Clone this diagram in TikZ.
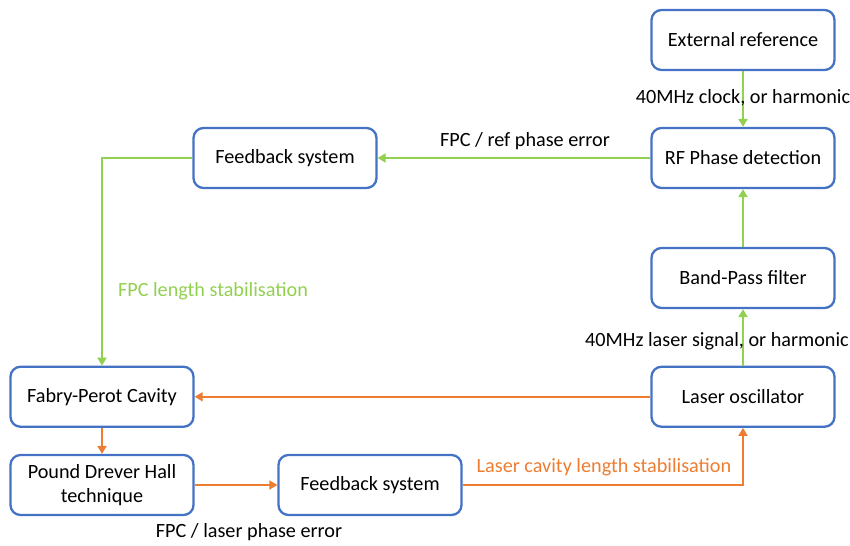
\documentclass[tikz,border=0pt]{standalone}
\usepackage{fontspec}
\setmainfont{Carlito}
\usepackage{tikz}
\usetikzlibrary{arrows.meta}

\definecolor{boxblue}{RGB}{68,114,196}
\definecolor{lgreen}{RGB}{146,208,80}
\definecolor{lorange}{RGB}{237,125,49}

\begin{document}
\begin{tikzpicture}[
    block/.style={draw=boxblue, line width=1.3pt, rounded corners=2mm, minimum width=3.66cm,
        minimum height=1.2cm, align=center, inner sep=2pt, fill=white},
    glink/.style={draw=lgreen, line width=1.1pt, -{Triangle[length=1.6mm,width=1.8mm]}},
    olink/.style={draw=lorange, line width=1.1pt, -{Triangle[length=1.6mm,width=1.8mm]}},
    lbl/.style={font=\fontsize{11.5}{13.5}\selectfont},
    font=\fontsize{11.5}{13.5}\selectfont,
]
\useasboundingbox (0,0) rectangle (17,10.9);

% --- Right column: reference and laser chain ---
\node[block] (extref) at (14.86,10.10) {External reference};
\node[block] (rfphase) at (14.86,7.74) {RF Phase detection};
\node[block] (bpfilter) at (14.86,5.34) {Band-Pass filter};
\node[block] (laserosc) at (14.86,2.965) {Laser oscillator};

% --- Left side: cavity loop ---
\node[block] (fpcav) at (2.04,2.965) {Fabry-Perot Cavity};
\node[block] (fbtop) at (5.70,7.74) {Feedback system};
\node[block] (pdh) at (2.04,1.20) {Pound Drever Hall\\technique};
\node[block] (fbbot) at (7.40,1.20) {Feedback system};

% Green links (FPC length loop)
\draw[glink] (extref) -- (rfphase);
\draw[glink] (laserosc) -- (bpfilter);
\draw[glink] (bpfilter) -- (rfphase);
\draw[glink] (rfphase) -- (fbtop);
\draw[glink] (fbtop.west) -| (fpcav.north);

% Orange links (laser cavity loop)
\draw[olink] (laserosc.west) -- (fpcav.east);
\draw[olink] (fpcav) -- (pdh);
\draw[olink] (pdh) -- (fbbot);
\draw[olink] (fbbot.east) -| (laserosc.south);

% Labels
\node[lbl] (clklbl) at (14.86,8.94) {40MHz clock, or harmonic};
\node[lbl] (refpelbl) at (10.50,8.08) {FPC / ref phase error};
\node[lbl, text=lgreen] (fpclbl) at (4.26,5.08) {FPC length stabilisation};
\node[lbl] (siglbl) at (14.34,4.08) {40MHz laser signal, or harmonic};
\node[lbl, text=lorange] (lcavlbl) at (12.08,1.56) {Laser cavity length stabilisation};
\node[lbl] (laspelbl) at (4.98,0.26) {FPC / laser phase error};

\end{tikzpicture}
\end{document}
